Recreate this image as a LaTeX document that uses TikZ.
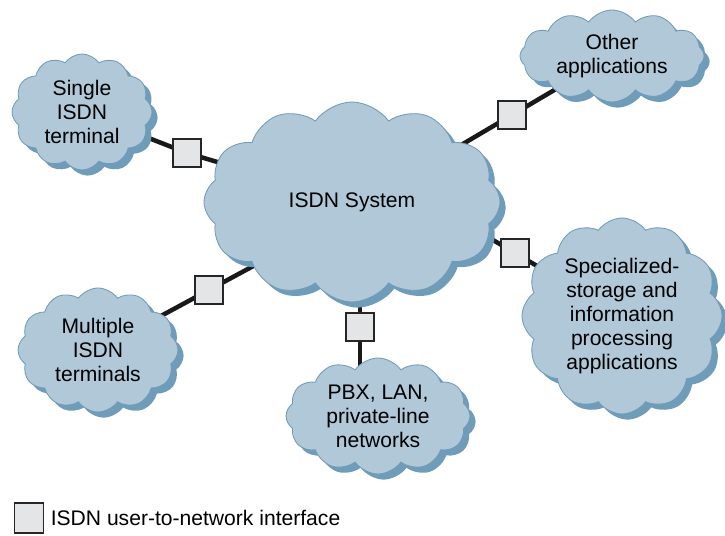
\documentclass[tikz,border=0pt]{standalone}
\usepackage{fontspec}
\setmainfont{Liberation Sans}
\usetikzlibrary{positioning, calc, shapes.symbols, shadows, backgrounds}
\definecolor{cloudfill}{HTML}{B0C8D8}
\definecolor{cloudshade}{HTML}{6F9CB9}
\definecolor{boxfill}{HTML}{E4E5E7}

\begin{document}
\begin{tikzpicture}[
        cloudbox/.style={cloud, cloud puffs=12, cloud puff arc=110, cloud ignores aspect, draw=cloudshade, line width=0.6pt, fill=cloudfill,
            drop shadow={shadow xshift=4pt, shadow yshift=-4pt, fill=cloudshade, opacity=1},
            align=center, font=\fontsize{15}{17}\selectfont, inner sep=0pt},
        iface/.style={rectangle, draw=black!85, line width=0.9pt, fill=boxfill, minimum size=0.7cm},
        link/.style={line width=3.2pt, black!90}
    ]
    \useasboundingbox (0,0) rectangle (18.125,13.4);
    % clouds
    \node (isdn) [cloudbox, minimum width=7.4cm, minimum height=5.0cm] at (8.8,8.35) {ISDN System};
    \node (single) [cloudbox, minimum width=3.5cm, minimum height=2.9cm] at (2.05,10.6) {Single\\ISDN\\terminal};
    \node (other) [cloudbox, minimum width=4.6cm, minimum height=2.3cm] at (15.3,12.0) {Other\\applications};
    \node (special) [cloudbox, minimum width=5.0cm, minimum height=4.9cm] at (15.55,5.5) {Specialized-\\storage and\\information\\processing\\applications};
    \node (multiple) [cloudbox, minimum width=4.0cm, minimum height=3.1cm] at (2.45,4.65) {Multiple\\ISDN\\terminals};
    \node (pbx) [cloudbox, minimum width=4.6cm, minimum height=2.9cm] at (9.45,3.0) {PBX, LAN,\\private-line\\networks};
    % interfaces
    \node (if1) [iface] at (4.675,9.575) {};
    \node (if2) [iface] at (12.8,10.525) {};
    \node (if3) [iface] at (12.875,7.075) {};
    \node (if4) [iface] at (5.225,6.15) {};
    \node (if5) [iface] at (9.0,5.225) {};
    % links behind everything
    \begin{pgfonlayer}{background}
        \draw [link] (single.center) -- (if1.center) -- (isdn.center);
        \draw [link] (other.center) -- ($(other.center)!1.8!(if2.center)$);
        \draw [link] (special.center) -- ($(special.center)!1.8!(if3.center)$);
        \draw [link] (multiple.center) -- ($(multiple.center)!1.8!(if4.center)$);
        \draw [link] (if5 |- pbx.center) -- (if5 |- isdn.center);
    \end{pgfonlayer}
    % legend
    \node (key) [iface, minimum width=0.72cm, minimum height=0.75cm] at (0.72,0.45) {};
    \node (keytext) [right=0.05cm of key, font=\fontsize{15}{17}\selectfont] {ISDN user-to-network interface};
\end{tikzpicture}
\end{document}
